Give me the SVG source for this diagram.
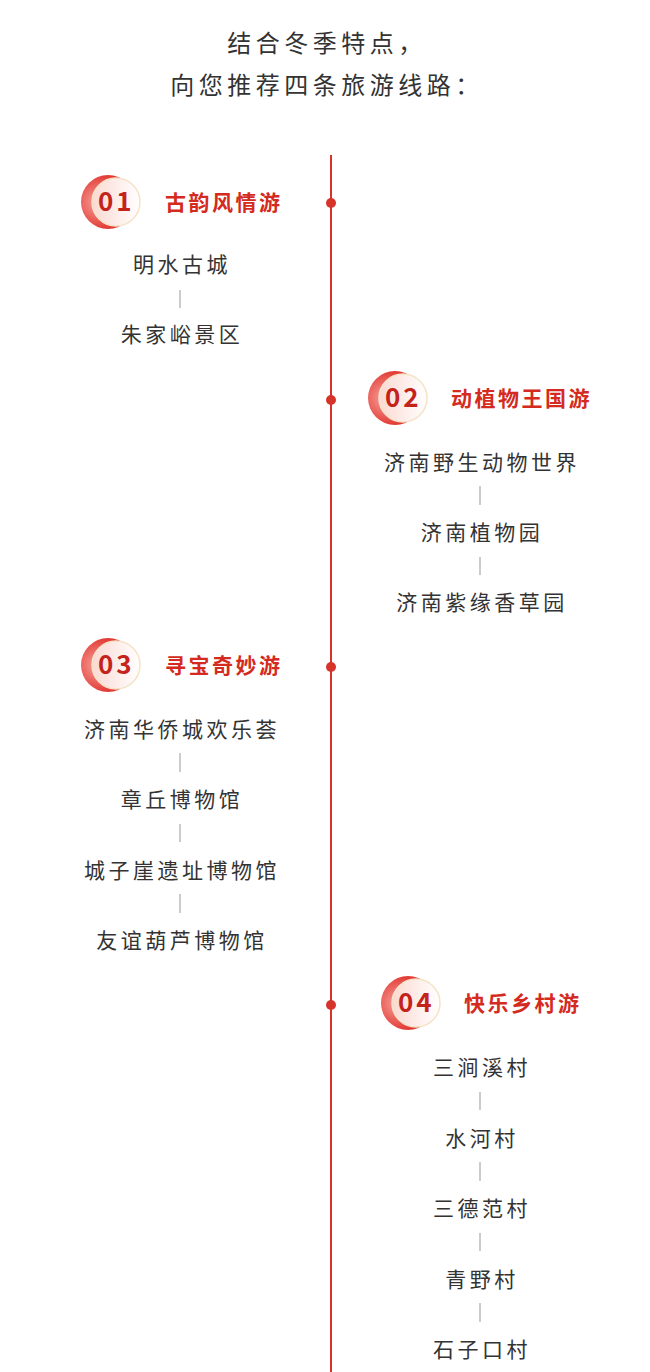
<svg xmlns="http://www.w3.org/2000/svg" width="650" height="1372" viewBox="0 0 650 1372">
<defs>
<radialGradient id="g" cx="0.3" cy="0.5" r="0.8"><stop offset="0" stop-color="#f6a09a"/><stop offset="0.6" stop-color="#e4403a"/><stop offset="1" stop-color="#d8281f"/></radialGradient>
<linearGradient id="g2" x1="0" y1="0" x2="1" y2="0"><stop offset="0" stop-color="#fbd9d2"/><stop offset="1" stop-color="#ffffff"/></linearGradient>
<g id="badge">
<circle cx="0" cy="0" r="27" fill="url(#g)"/>
<circle cx="8" cy="0" r="24" fill="url(#g2)" stroke="#f5e3c8" stroke-width="1.5"/>
</g>
</defs>
<style>
text{font-family:"Noto Sans CJK SC","Noto Sans",sans-serif}
.h{font-size:24px;fill:#333;letter-spacing:4.5px}
.t{font-size:21px;font-weight:bold;fill:#d42a20;letter-spacing:2.5px}
.n{font-size:26px;font-weight:bold;fill:#c4231b;letter-spacing:3px}
.i{font-size:21px;fill:#333;letter-spacing:3.5px;text-anchor:middle}
.s{stroke:#999;stroke-width:1}
</style>
<rect width="650" height="1372" fill="#fff"/>
<text class="h" x="327" y="52" text-anchor="middle">结合冬季特点，</text>
<text class="h" x="327" y="94" text-anchor="middle">向您推荐四条旅游线路：</text>
<g id="connectors">
<line x1="331" y1="155" x2="331" y2="1372" stroke="#d6332a" stroke-width="2"/>
<circle cx="331" cy="203" r="5" fill="#d6332a"/>
<circle cx="331" cy="400" r="5" fill="#d6332a"/>
<circle cx="331" cy="667" r="5" fill="#d6332a"/>
<circle cx="331" cy="1005" r="5" fill="#d6332a"/>
<g class="s">
<line x1="180" y1="290" x2="180" y2="308"/>
<line x1="480" y1="486" x2="480" y2="505"/>
<line x1="480" y1="557" x2="480" y2="575"/>
<line x1="180" y1="753" x2="180" y2="772"/>
<line x1="180" y1="824" x2="180" y2="842"/>
<line x1="180" y1="894" x2="180" y2="913"/>
<line x1="480" y1="1092" x2="480" y2="1110"/>
<line x1="480" y1="1162" x2="480" y2="1181"/>
<line x1="480" y1="1233" x2="480" y2="1251"/>
<line x1="480" y1="1303" x2="480" y2="1322"/>
</g>
</g>
<g id="route1">
<use href="#badge" x="108" y="202"/>
<text class="n" x="98" y="211">01</text>
<text class="t" x="165" y="210">古韵风情游</text>
<text class="i" x="182" y="272">明水古城</text>
<text class="i" x="182" y="342">朱家峪景区</text>
</g>
<g id="route2">
<use href="#badge" x="395" y="398"/>
<text class="n" x="385" y="407">02</text>
<text class="t" x="451" y="406">动植物王国游</text>
<text class="i" x="482" y="470">济南野生动物世界</text>
<text class="i" x="482" y="540">济南植物园</text>
<text class="i" x="482" y="610">济南紫缘香草园</text>
</g>
<g id="route3">
<use href="#badge" x="108" y="665"/>
<text class="n" x="98" y="674">03</text>
<text class="t" x="165" y="673">寻宝奇妙游</text>
<text class="i" x="182" y="737">济南华侨城欢乐荟</text>
<text class="i" x="182" y="807">章丘博物馆</text>
<text class="i" x="182" y="878">城子崖遗址博物馆</text>
<text class="i" x="182" y="948">友谊葫芦博物馆</text>
</g>
<g id="route4">
<use href="#badge" x="408" y="1003"/>
<text class="n" x="398" y="1012">04</text>
<text class="t" x="464" y="1011">快乐乡村游</text>
<text class="i" x="482" y="1075">三涧溪村</text>
<text class="i" x="482" y="1146">水河村</text>
<text class="i" x="482" y="1216">三德范村</text>
<text class="i" x="482" y="1287">青野村</text>
<text class="i" x="482" y="1357">石子口村</text>
</g>
</svg>
